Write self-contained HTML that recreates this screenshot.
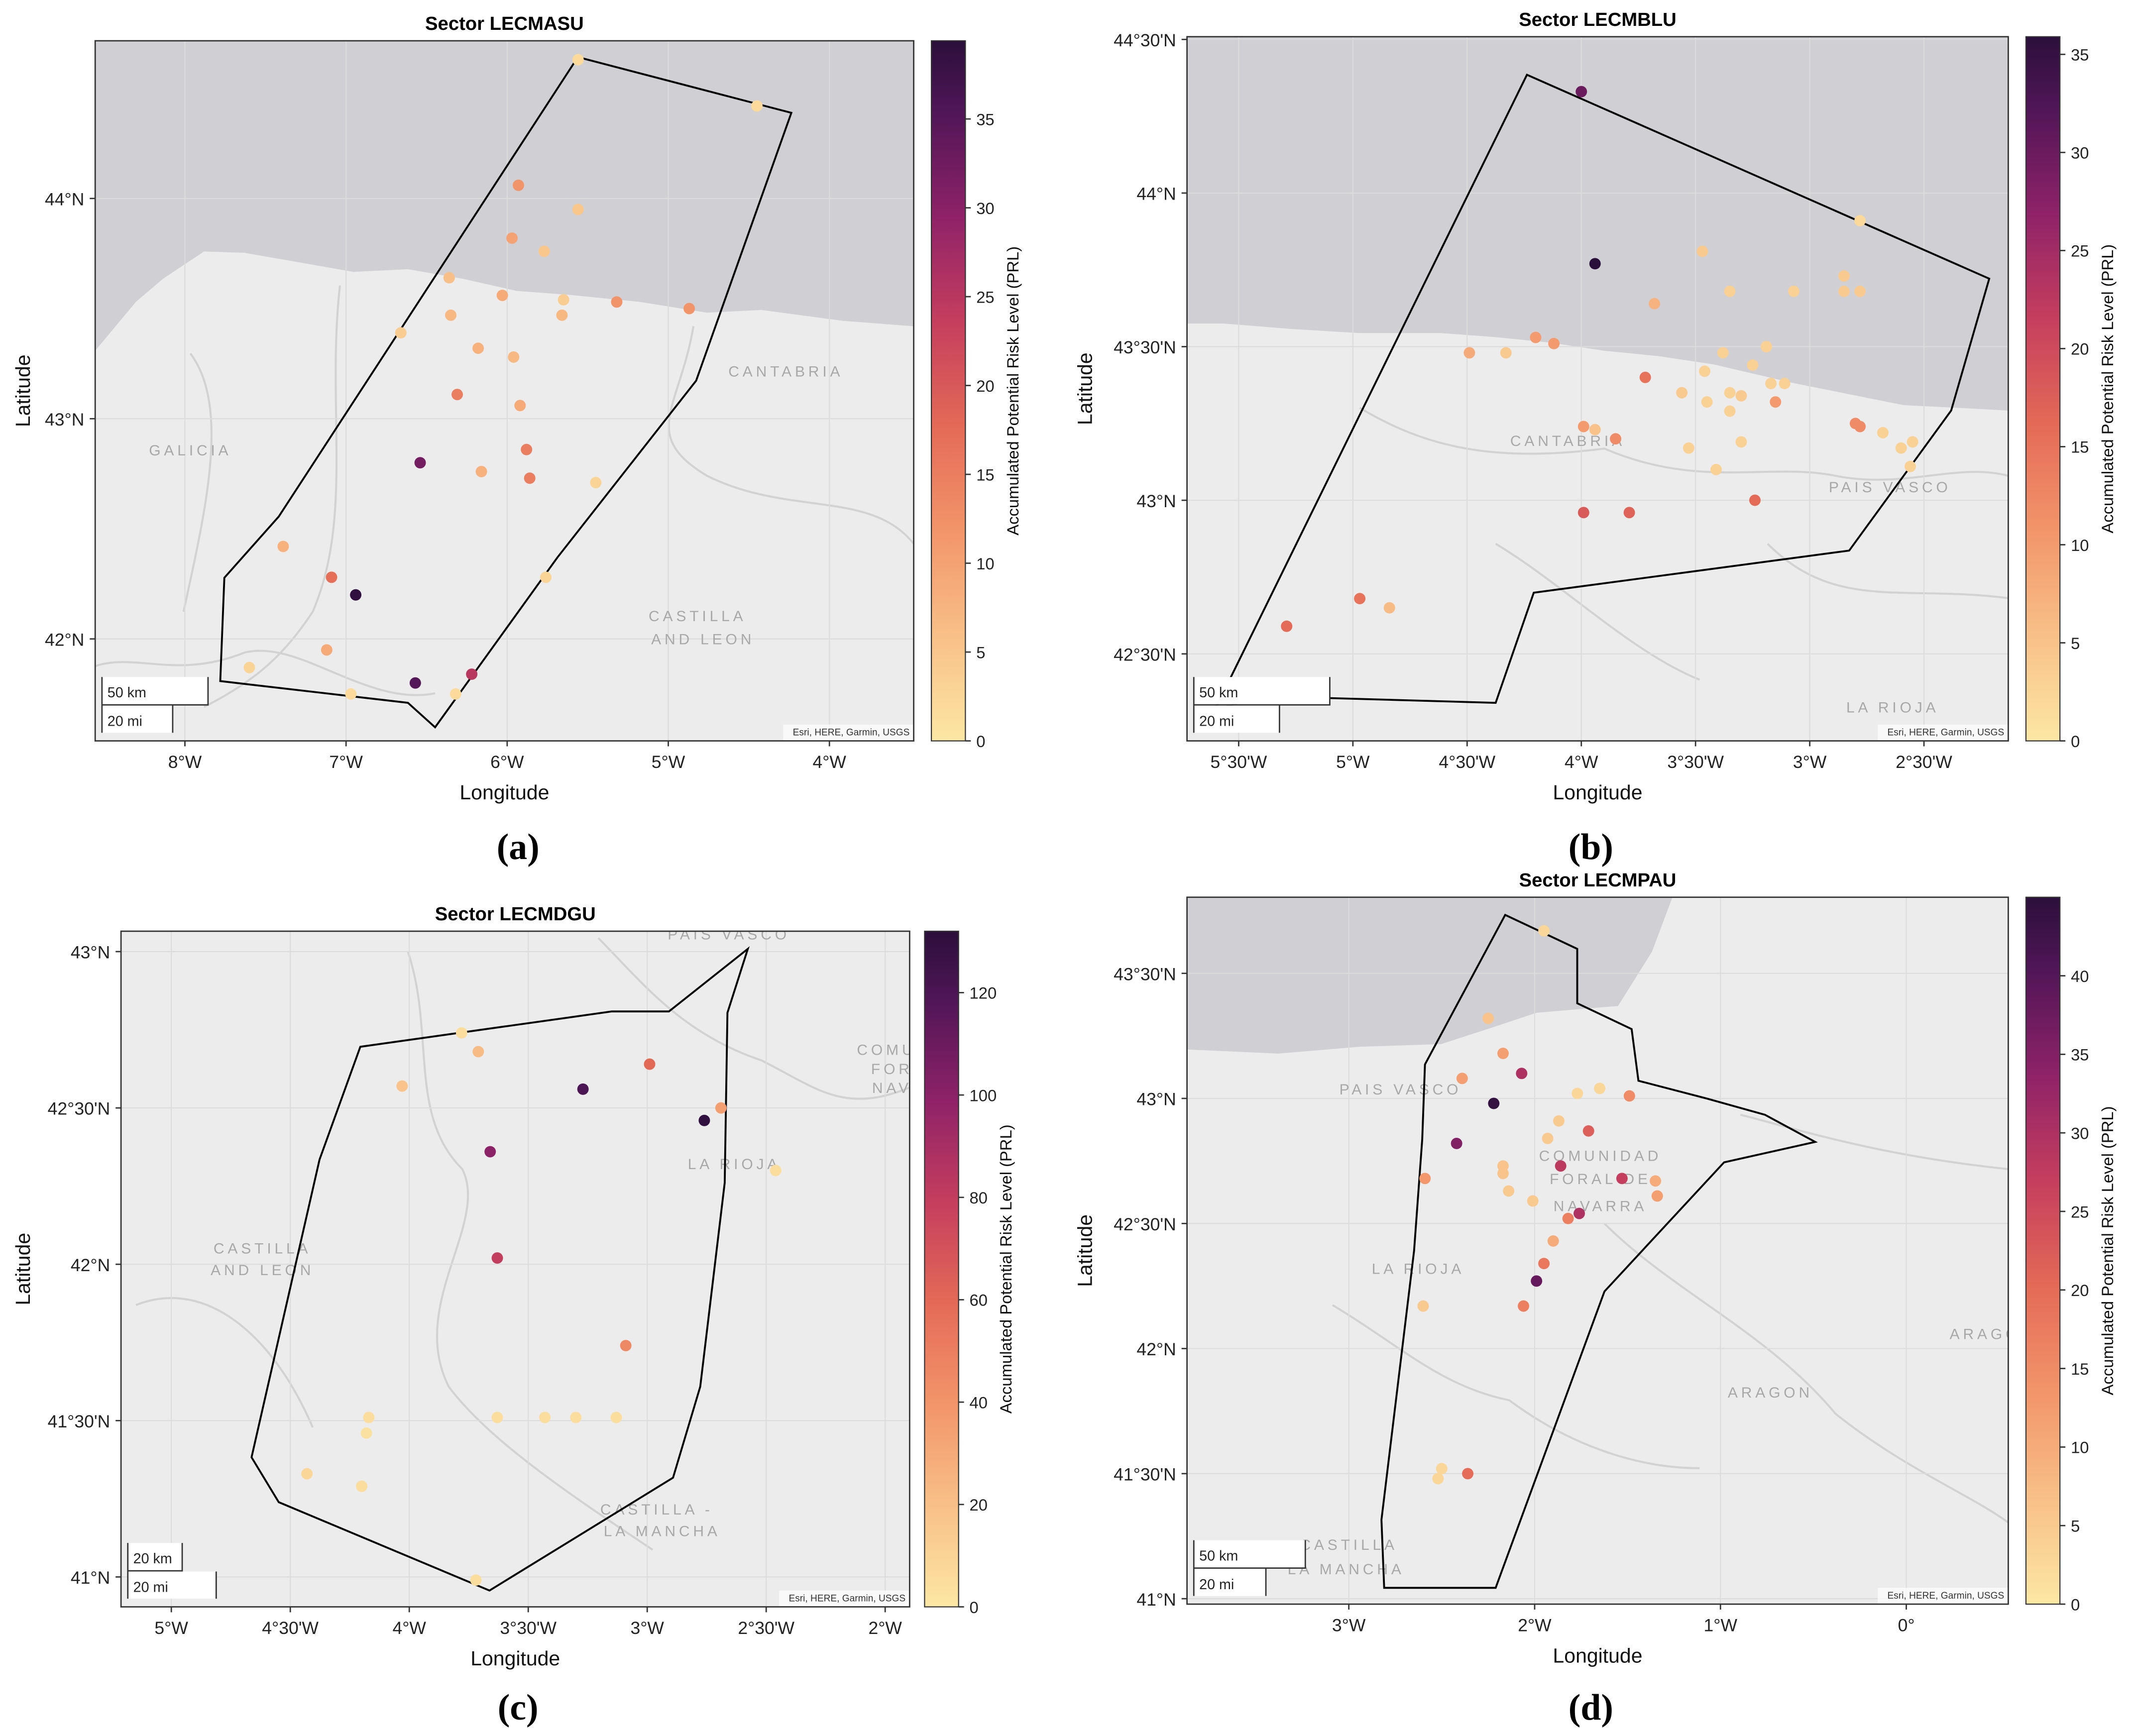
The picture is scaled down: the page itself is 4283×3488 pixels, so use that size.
<!DOCTYPE html>
<html><head><meta charset="utf-8"><style>
html,body{margin:0;padding:0;background:#fff;}
svg{display:block;font-family:"Liberation Sans",sans-serif;}
</style></head><body>
<svg id="fig" width="4283" height="3488" viewBox="0 0 1568 1277" preserveAspectRatio="none" xmlns="http://www.w3.org/2000/svg">
<defs>
<linearGradient id="cmap" x1="0" y1="1" x2="0" y2="0">
<stop offset="0" stop-color="#fce7a5"/><stop offset="0.15" stop-color="#f8c088"/><stop offset="0.3" stop-color="#f2956a"/><stop offset="0.45" stop-color="#e46a57"/><stop offset="0.6" stop-color="#c53e5e"/><stop offset="0.75" stop-color="#8e2268"/><stop offset="0.9" stop-color="#4f1656"/><stop offset="1" stop-color="#2b0f3b"/>
</linearGradient>
</defs>
</svg>
<script>
// ---------- data ----------
const aLon=[-5.56,-4.45,-5.93,-5.56,-5.97,-5.77,-6.36,-6.03,-5.65,-5.32,-4.87,-6.66,-6.35,-6.18,-5.96,-5.66,-6.31,-5.92,-5.88,-6.54,-6.16,-5.86,-5.45,-5.76,-7.39,-7.09,-6.94,-7.12,-7.60,-6.57,-6.22,-6.97,-6.32];
const aLat=[44.63,44.42,44.06,43.95,43.82,43.76,43.64,43.56,43.54,43.53,43.50,43.39,43.47,43.32,43.28,43.47,43.11,43.06,42.86,42.80,42.76,42.73,42.71,42.28,42.42,42.28,42.20,41.95,41.87,41.80,41.84,41.75,41.75];
const aPrl=[2,2,12,5,10,5,6,9,4,12,12,4,7,8,7,7,15,9,15,32,8,15,3,3,8,17,39,9,3,35,25,2,2];
const bLon=[-4.00,-3.94,-2.78,-3.47,-3.35,-3.07,-2.85,-2.85,-2.78,-3.68,-4.49,-4.33,-4.20,-4.12,-3.19,-3.38,-3.46,-3.25,-3.72,-3.56,-3.45,-3.35,-3.30,-3.17,-3.15,-3.11,-3.35,-3.30,-3.99,-3.94,-3.85,-3.53,-3.41,-3.24,-2.80,-2.78,-2.68,-2.60,-2.55,-2.56,-3.99,-3.79,-4.97,-4.84,-5.29];
const bLat=[44.33,43.77,43.91,43.81,43.68,43.68,43.73,43.68,43.68,43.64,43.48,43.48,43.53,43.51,43.50,43.48,43.42,43.44,43.40,43.35,43.32,43.35,43.34,43.38,43.32,43.38,43.29,43.19,43.24,43.23,43.20,43.17,43.10,43.00,43.25,43.24,43.22,43.17,43.19,43.11,42.96,42.96,42.68,42.65,42.59];
const bPrl=[30,36,2,4,3,3,4,4,4,7,8,4,10,10,3,3,3,3,15,4,3,3,4,3,10,3,3,3,10,5,12,3,3,16,12,12,3,3,3,3,18,17,15,6,16];
const cLon=[-4.03,-3.71,-3.78,-3.27,-2.99,-2.76,-2.69,-2.46,-3.66,-3.63,-3.09,-4.17,-4.18,-3.63,-3.43,-3.30,-3.13,-4.43,-4.20,-3.72];
const cLat=[42.57,42.68,42.74,42.56,42.64,42.46,42.50,42.30,42.36,42.02,41.74,41.51,41.46,41.51,41.51,41.51,41.51,41.33,41.29,40.99];
const cPrl=[18,22,5,120,60,130,35,5,100,80,45,5,3,5,5,5,5,8,5,5];
const dLon=[-1.95,-2.25,-2.17,-2.39,-2.07,-2.22,-1.77,-1.65,-1.49,-2.42,-1.87,-1.93,-1.71,-2.17,-2.17,-2.14,-2.59,-1.86,-1.53,-1.35,-1.34,-2.01,-1.82,-1.76,-1.90,-1.95,-1.99,-2.06,-2.60,-2.36,-2.50,-2.52];
const dLat=[43.67,43.32,43.18,43.08,43.10,42.98,43.02,43.04,43.01,42.82,42.91,42.84,42.87,42.73,42.70,42.63,42.68,42.73,42.68,42.67,42.61,42.59,42.52,42.54,42.43,42.34,42.27,42.17,42.17,41.50,41.52,41.48];
const dPrl=[3,6,12,12,30,44,3,3,15,35,5,5,22,6,6,5,13,28,27,10,12,5,17,30,10,18,38,17,5,20,3,3];
// tick labels
const aXT=[-8,-7,-6,-5,-4], aXL=["8°W","7°W","6°W","5°W","4°W"];
const aYT=[42,43,44], aYL=["42°N","43°N","44°N"];
const bXT=[-5.5,-5,-4.5,-4,-3.5,-3,-2.5], bXL=["5°30'W","5°W","4°30'W","4°W","3°30'W","3°W","2°30'W"];
const bYT=[42.5,43,43.5,44,44.5], bYL=["42°30'N","43°N","43°30'N","44°N","44°30'N"];
const cXT=[-5,-4.5,-4,-3.5,-3,-2.5,-2], cXL=["5°W","4°30'W","4°W","3°30'W","3°W","2°30'W","2°W"];
const cYT=[41,41.5,42,42.5,43], cYL=["41°N","41°30'N","42°N","42°30'N","43°N"];
const dXT=[-3,-2,-1,0], dXL=["3°W","2°W","1°W","0°"];
const dYT=[41,41.5,42,42.5,43,43.5], dYL=["41°N","41°30'N","42°N","42°30'N","43°N","43°30'N"];
const aCT=[0,5,10,15,20,25,30,35], bCT=[0,5,10,15,20,25,30,35], cCT=[0,20,40,60,80,100,120], dCT=[0,5,10,15,20,25,30,35,40];

const NS="http://www.w3.org/2000/svg";
const svg=document.getElementById('fig');
function mk(tag,attrs,parent,text){const e=document.createElementNS(NS,tag);for(const k in attrs)e.setAttribute(k,attrs[k]);if(text!==undefined)e.textContent=text;(parent||svg).appendChild(e);return e;}
const stops=[[0,[252,231,165]],[0.15,[248,192,136]],[0.3,[242,149,106]],[0.45,[228,106,87]],[0.6,[197,62,94]],[0.75,[142,34,104]],[0.9,[79,22,86]],[1,[43,15,59]]];
function cmap(t){t=Math.max(0,Math.min(1,t));for(let i=1;i<stops.length;i++){if(t<=stops[i][0]){const a=stops[i-1],b=stops[i];const f=(t-a[0])/(b[0]-a[0]);const c=a[1].map((v,j)=>Math.round(v+(b[1][j]-v)*f));return `rgb(${c})`;}}return 'rgb(43,15,59)';}

function panel(p){
  const g=mk('g',{},svg);
  
  
  const X=lon=>p.x0+(lon-p.lon0)*(p.x1-p.x0)/(p.lon1-p.lon0);
  const Y=lat=>p.y0+(lat-p.lat0)*(p.y1-p.y0)/(p.lat1-p.lat0);
  const bw=p.R-p.L,bh=p.B-p.T;
  const clip=mk('clipPath',{id:'clip'+p.id},g);mk('rect',{x:p.L,y:p.T,width:bw,height:bh},clip);
  const map=mk('g',{'clip-path':`url(#clip${p.id})`},g);
  
  
  mk('rect',{x:p.L,y:p.T,width:bw,height:bh,fill:'#ececec'},map);
  if(p.sea){const s=mk('path',{d:p.sea,fill:'#cfcfd4'},map);}
  (p.borders||[]).forEach(d=>mk('path',{d:d,fill:'none',stroke:'#d2d2d2','stroke-width':1.5},map));
  p.xt.forEach(v=>mk('line',{x1:X(v),x2:X(v),y1:p.T,y2:p.B,stroke:'#dcdcdc','stroke-width':0.8},map));
  p.yt.forEach(v=>mk('line',{x1:p.L,x2:p.R,y1:Y(v),y2:Y(v),stroke:'#dcdcdc','stroke-width':0.8},map));
  (p.regions||[]).forEach(r=>mk('text',{x:r[1],y:r[2],'font-size':11,fill:'#a8a8a8','letter-spacing':2.5,'text-anchor':'middle'},map,r[0]));
  const poly=mk('polygon',{points:p.poly,fill:'none',stroke:'#000','stroke-width':1.4},map);
  
  
  for(let i=0;i<p.lon.length;i++){
    const c=mk('circle',{cx:X(p.lon[i]),cy:Y(p.lat[i]),r:4.2,fill:cmap(p.prl[i]/p.cmax)},map);
    
    
  }
  // scale bar
  const sb=mk('g',{},map);
  
  
  const sx=p.L+5,sy=p.B-47;
  mk('rect',{x:sx,y:sy,width:p.sb1,height:20,fill:'#fff'},sb);
  mk('rect',{x:sx,y:sy+21,width:p.sb2,height:20,fill:'#fff'},sb);
  mk('path',{d:`M${sx},${sy} V${sy+41} M${sx},${sy+20.5} H${sx+p.sb1} V${sy} M${sx+p.sb2},${sy+21} V${sy+41}`,stroke:'#333',fill:'none','stroke-width':1},sb);
  mk('text',{x:sx+4,y:sy+15,'font-size':10.5,fill:'#222'},sb,p.sbl1);
  mk('text',{x:sx+4,y:sy+36,'font-size':10.5,fill:'#222'},sb,p.sbl2);
  mk('rect',{x:p.R-96,y:p.B-12,width:96,height:12,fill:'rgba(255,255,255,0.7)'},map);
  const at=mk('text',{x:p.R-3,y:p.B-4,'font-size':7,fill:'#333','text-anchor':'end'},map,'Esri, HERE, Garmin, USGS');
  
  
  mk('rect',{x:p.L,y:p.T,width:bw,height:bh,fill:'none',stroke:'#333','stroke-width':1},g);
  // ticks
  p.xt.forEach((v,i)=>{mk('line',{x1:X(v),x2:X(v),y1:p.B,y2:p.B+4,stroke:'#333'},g);
    const t=mk('text',{x:X(v),y:p.B+20,'font-size':13,fill:'#222','text-anchor':'middle'},g,p.xl[i]);
    
    });
  p.yt.forEach((v,i)=>{mk('line',{x1:p.L-4,x2:p.L,y1:Y(v),y2:Y(v),stroke:'#333'},g);
    const t=mk('text',{x:p.L-8,y:Y(v)+5,'font-size':13,fill:'#222','text-anchor':'end'},g,p.yl[i]);
    
    });
  const tt=mk('text',{x:(p.L+p.R)/2,y:p.T-8,'font-size':14,'font-weight':'bold',fill:'#000','text-anchor':'middle'},g,p.title);
  
  
  const xl=mk('text',{x:(p.L+p.R)/2,y:p.B+43,'font-size':15,fill:'#111','text-anchor':'middle'},g,'Longitude');
  
  
  const yl=mk('text',{x:0,y:0,'font-size':15,fill:'#111','text-anchor':'middle',transform:`translate(${p.ylx},${(p.T+p.B)/2}) rotate(-90)`},g,'Latitude');
  
  
  // colorbar
  const cb=mk('g',{},g);
  
  
  mk('rect',{x:p.cx,y:p.T,width:25,height:bh,fill:'url(#cmap)',stroke:'#333','stroke-width':0.8},cb);
  p.ct.forEach(v=>{const y=p.B-v/p.cmax*bh;mk('line',{x1:p.cx+25,x2:p.cx+29,y1:y,y2:y,stroke:'#333'},cb);
    mk('text',{x:p.cx+33,y:y+4.5,'font-size':12,fill:'#222'},cb,String(v));});
  mk('text',{x:0,y:0,'font-size':12,fill:'#111','text-anchor':'middle',transform:`translate(${p.cx+64},${(p.T+p.B)/2}) rotate(-90)`},cb,'Accumulated Potential Risk Level (PRL)');
  const lb=mk('text',{x:p.lx,y:p.ly,'font-size':27,'font-weight':'bold',fill:'#000','text-anchor':'middle','font-family':'"Liberation Serif",serif'},g,p.label);
  
  
}

panel({id:'a',name:'panel-a-lecmasu',title:'Sector LECMASU',label:'(a)',L:70,R:672,T:30,B:545,
 lon0:-8,x0:136,lon1:-4,x1:610,lat0:43,y0:308,lat1:44,y1:146,cmax:39.4,cx:685,ylx:22,lx:381,ly:632,
 lon:aLon,lat:aLat,prl:aPrl,xt:aXT,xl:aXL,yt:aYT,yl:aYL,ct:aCT,sb1:78,sb2:52,sbl1:'50 km',sbl2:'20 mi',
 sea:'M70,30 H672 V240 L620,236 L560,228 L520,230 L470,222 L420,217 L380,214 L340,205 L300,198 L260,200 L220,193 L180,186 L150,185 L120,205 L100,222 L70,258 Z',
 borders:['M140,260 C170,300 150,380 135,450 M250,210 C240,300 260,380 230,450 C210,480 190,500 150,520 M510,240 C500,300 470,320 520,350 C580,380 640,360 672,400','M70,490 C100,480 130,500 180,480 C220,470 270,520 320,510'],
 regions:[['GALICIA',140,335],['CANTABRIA',578,277],['CASTILLA',513,457],['AND LEON',517,474]],
 poly:'425,42 582,83 512,280 410,410 320,535 300,517 162,501 165,425 205,380'});

panel({id:'b',name:'panel-b-lecmblu',title:'Sector LECMBLU',label:'(b)',L:873,R:1477,T:27,B:545,
 lon0:-5,x0:995,lon1:-4,x1:1163,lat0:43,y0:368,lat1:44,y1:142,cmax:35.9,cx:1490,ylx:803,lx:1170,ly:632,
 lon:bLon,lat:bLat,prl:bPrl,xt:bXT,xl:bXL,yt:bYT,yl:bYL,ct:bCT,sb1:100,sb2:63,sbl1:'50 km',sbl2:'20 mi',
 sea:'M873,27 H1477 V302 L1440,300 L1400,298 L1360,290 L1320,282 L1290,275 L1260,268 L1220,262 L1180,258 L1140,252 L1100,248 L1060,245 L1000,245 L950,242 L900,238 L873,238 Z',
 borders:['M1000,300 C1050,330 1100,340 1180,330 C1250,360 1300,340 1350,350 C1400,360 1440,340 1477,350','M1300,400 C1350,450 1400,430 1477,440 M1100,400 C1150,430 1200,480 1250,500'],
 regions:[['CANTABRIA',1153,328],['PAIS VASCO',1390,362],['LA RIOJA',1392,524]],
 poly:'893,523 1123,55 1463,205 1435,302 1360,405 1128,436 1100,517 925,512'});

panel({id:'c',name:'panel-c-lecmdgu',title:'Sector LECMDGU',label:'(c)',L:89,R:669,T:685,B:1182,
 lon0:-5,x0:126,lon1:-4,x1:301,lat0:43,y0:700,lat1:42,y1:930,cmax:132,cx:680,ylx:22,lx:381,ly:1265,
 lon:cLon,lat:cLat,prl:cPrl,xt:cXT,xl:cXL,yt:cYT,yl:cYL,ct:cCT,sb1:40,sb2:65,sbl1:'20 km',sbl2:'20 mi',sea:null,
 borders:['M440,690 C470,720 500,760 560,780 C600,800 620,820 669,800','M300,700 C320,760 300,820 340,860 C360,900 300,960 330,1020 C360,1060 420,1100 480,1140','M100,960 C150,940 200,980 230,1050'],
 regions:[['PAIS VASCO',536,691],['LA RIOJA',540,860],['CASTILLA',193,922],['AND LEON',193,938],['CASTILLA -',483,1114],['LA MANCHA',487,1130],['COMU',652,776],['FOR',656,790],['NAV',656,804]],
 poly:'265,770 450,744 492,744 550,698 535,745 533,870 515,1020 495,1087 360,1170 205,1105 185,1072 235,853'});

panel({id:'d',name:'panel-d-lecmpau',title:'Sector LECMPAU',label:'(d)',L:873,R:1477,T:660,B:1180,
 lon0:-3,x0:992,lon1:0,x1:1402,lat0:43,y0:808,lat1:42,y1:992,cmax:45,cx:1490,ylx:803,lx:1170,ly:1265,
 lon:dLon,lat:dLat,prl:dPrl,xt:dXT,xl:dXL,yt:dYT,yl:dYL,ct:dCT,sb1:82,sb2:53,sbl1:'50 km',sbl2:'20 mi',
 sea:'M873,660 H1230 L1215,700 L1190,740 L1165,742 L1130,745 L1100,755 L1060,768 L1000,770 L940,775 L873,772 Z',
 borders:['M1280,820 C1320,830 1380,850 1477,860','M1180,900 C1230,950 1300,980 1350,1040 C1400,1080 1450,1100 1477,1120','M980,960 C1030,990 1060,1020 1110,1030 C1150,1060 1200,1080 1250,1080'],
 regions:[['PAIS VASCO',1030,805],['COMUNIDAD',1177,854],['FORAL DE',1177,871],['NAVARRA',1177,891],['LA RIOJA',1043,937],['ARAGON',1302,1028],['ARAGO',1460,985],['CASTILLA',992,1140],['LA MANCHA',990,1158]],
 poly:'1107,673 1160,698 1160,738 1200,757 1205,795 1255,808 1298,820 1335,840 1268,855 1180,950 1100,1168 1018,1168 1016,1118 1040,920 1046,838 1048,783'});
</script>
</body></html>
